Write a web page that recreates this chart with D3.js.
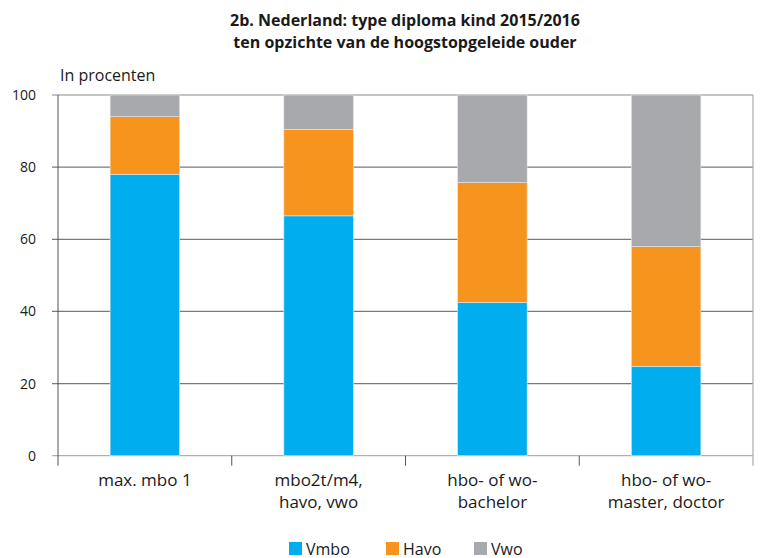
<!DOCTYPE html>
<html><head><meta charset="utf-8">
<script src="https://cdn.jsdelivr.net/npm/d3@7"></script>
<style>
body{margin:0;background:#fff;}
text{font-family:"Open Sans",sans-serif;fill:#1a1a1a;}
</style></head><body>
<svg id="c" width="764" height="558"></svg>
<script>
const categories = [["max. mbo 1"], ["mbo2t/m4,", "havo, vwo"], ["hbo- of wo-", "bachelor"], ["hbo- of wo-", "master, doctor"]];
const seriesNames = ["Vmbo", "Havo", "Vwo"];
const vmbo = [78, 66.5, 42.5, 24.8];
const havo = [16, 24, 33.2, 33.2];
const vwo = [6, 9.5, 24.3, 42];
const yTicks = [0, 20, 40, 60, 80, 100];
const colors = ["#00adee", "#f7941d", "#a7a9ac"];

(function(){
const svg = d3.select("#c");
const pLeft = 58, pRight = 753, pTop = 95, pBottom = 455.7;
const x = d3.scaleBand().domain(d3.range(categories.length)).range([pLeft, pRight]).padding(0);
const y = d3.scaleLinear().domain([0, 100]).range([pBottom, pTop]);

const rows = categories.map((c, i) => ({i, Vmbo: vmbo[i], Havo: havo[i], Vwo: vwo[i]}));
const stack = d3.stack().keys(seriesNames)(rows);

// title
svg.append("text").attr("x", 405).attr("y", 26).attr("text-anchor", "middle")
  .style("font-weight", "bold").style("font-size", "16px").text("2b. Nederland: type diploma kind 2015/2016");
svg.append("text").attr("x", 405).attr("y", 48).attr("text-anchor", "middle")
  .style("font-weight", "bold").style("font-size", "16px").text("ten opzichte van de hoogstopgeleide ouder");
svg.append("text").attr("x", 60).attr("y", 81).style("font-size", "16px").text("In procenten");

// gridlines
svg.append("g").selectAll("line").data(yTicks).join("line")
  .attr("x1", pLeft - 6).attr("x2", pRight).attr("y1", d => y(d)).attr("y2", d => y(d))
  .attr("stroke", d => (d === 0 || d === 100) ? "#b0b0b0" : "#7a7a7a").attr("stroke-width", 1.3);

// y axis labels
svg.append("g").selectAll("text").data(yTicks).join("text")
  .attr("x", 36).attr("y", d => y(d) + 5).attr("text-anchor", "end")
  .style("font-size", "14px").text(d => d);

// vertical borders
svg.append("line").attr("x1", pLeft).attr("x2", pLeft).attr("y1", pTop).attr("y2", pBottom + 10).attr("stroke", "#555").attr("stroke-width", 1);
svg.append("line").attr("x1", pRight).attr("x2", pRight).attr("y1", pTop).attr("y2", pBottom + 10).attr("stroke", "#b0b0b0").attr("stroke-width", 1.3);
// category ticks
svg.append("g").selectAll("line").data(d3.range(1, categories.length)).join("line")
  .attr("x1", d => x(d)).attr("x2", d => x(d)).attr("y1", pBottom).attr("y2", pBottom + 10)
  .attr("stroke", "#555").attr("stroke-width", 1);

// bars
const bw = x.bandwidth() * 0.4;
svg.append("g").selectAll("g").data(stack).join("g")
  .attr("fill", (d, k) => colors[k])
  .selectAll("rect").data(d => d).join("rect")
  .attr("x", d => x(d.data.i) + (x.bandwidth() - bw) / 2)
  .attr("width", bw)
  .attr("y", d => y(d[1]))
  .attr("height", d => y(d[0]) - y(d[1]))
  .attr("stroke", "#e6e6e6").attr("stroke-width", 0.6);

// category labels
const lab = svg.append("g").selectAll("text").data(categories).join("text")
  .attr("text-anchor", "middle").style("font-size", "17px");
lab.each(function(lines, i) {
  d3.select(this).selectAll("tspan").data(lines).join("tspan")
    .attr("x", x(i) + x.bandwidth() / 2).attr("y", (l, j) => 486 + j * 22).text(l => l);
});

// legend
const legX = [289, 386, 474];
const leg = svg.append("g").selectAll("g").data(seriesNames).join("g")
  .attr("transform", (d, k) => `translate(${legX[k]},542)`);
leg.append("rect").attr("width", 13).attr("height", 13).attr("fill", (d, k) => colors[k]);
leg.append("text").attr("x", 17).attr("y", 12.5).style("font-size", "16px").text(d => d);
})();
</script>
</body></html>
